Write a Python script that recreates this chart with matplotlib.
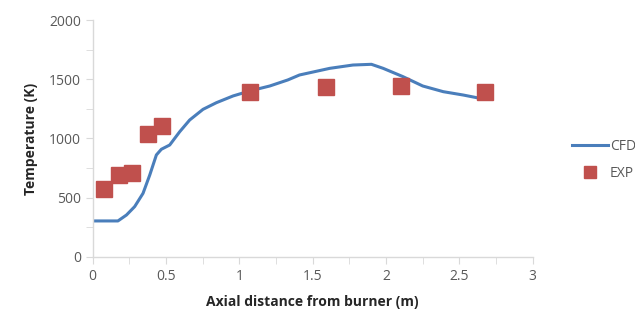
import numpy as np
import matplotlib
matplotlib.use('Agg')
from matplotlib import pyplot as plt
from matplotlib.ticker import MultipleLocator

# CFD prediction along the axis
cfd_x = [0.0, 0.172, 0.23, 0.286, 0.343, 0.389, 0.434, 0.468, 0.525, 0.593, 0.661,
         0.752, 0.843, 0.957, 1.07, 1.207, 1.33, 1.41, 1.616, 1.774, 1.90, 1.98,
         2.115, 2.25, 2.39, 2.525, 2.64, 2.67]
cfd_t = [304, 304, 354, 425, 537, 692, 861, 909, 945, 1057, 1156,
         1246, 1302, 1359, 1401, 1443, 1494, 1536, 1592, 1620, 1626, 1592,
         1522, 1443, 1395, 1367, 1339, 1336]

# measurements
exp_x = [0.075, 0.18, 0.27, 0.377, 0.475, 1.075, 1.588, 2.104, 2.677]
exp_t = [571, 692, 706, 1038, 1105, 1390, 1437, 1443, 1395]

plt.rcParams['font.family'] = ['Open Sans', 'DejaVu Sans']

fig = plt.figure(figsize=(6.35, 3.2), dpi=100)
ax = fig.add_axes([0.146, 0.197, 0.693, 0.7405])

ax.plot(cfd_x, cfd_t, color='#4a7ebb', lw=2.2, label='CFD', solid_joinstyle='round')
ax.plot(exp_x, exp_t, ls='none', marker='s', ms=11, color='#c0504d', label='EXP')

ax.set_xlim(0, 3)
ax.set_ylim(0, 2000)
ax.xaxis.set_minor_locator(MultipleLocator(0.25))
ax.yaxis.set_major_locator(MultipleLocator(500))
ax.yaxis.set_minor_locator(MultipleLocator(250))
ax.set_xticks([0, 0.5, 1, 1.5, 2, 2.5, 3])
ax.set_xticklabels(['0', '0.5', '1', '1.5', '2', '2.5', '3'])

for s in ['top', 'right']:
    ax.spines[s].set_visible(False)
for s in ['left', 'bottom']:
    ax.spines[s].set_color('#d9d9d9')
    ax.spines[s].set_linewidth(1)
ax.tick_params(which='both', direction='out', color='#d9d9d9', labelcolor='#595959', labelsize=10, length=5)

ax.set_xlabel('Axial distance from burner (m)', fontsize=10, fontweight='bold', color='#262626', labelpad=8)
ax.set_ylabel('Temperature (K)', fontsize=10, fontweight='bold', color='#262626', labelpad=8)

leg = ax.legend(loc='center left', bbox_to_anchor=(1.06, 0.41), frameon=False, fontsize=10,
                handlelength=2.6, handletextpad=0.15, labelspacing=0.9, markerscale=0.85)
for t in leg.get_texts():
    t.set_color('#595959')

fig.savefig('out.png', dpi=100)
